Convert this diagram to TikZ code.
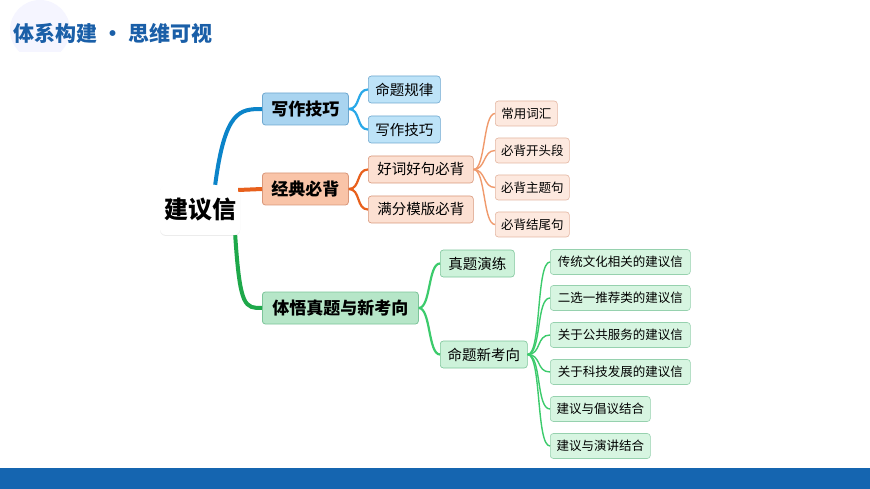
\documentclass[tikz,border=0pt]{standalone}
\usepackage{fontspec}
\setmainfont{Noto Sans CJK SC}
\usetikzlibrary{shadows,calc}
\definecolor{tblue}{HTML}{1A5FA8}
\definecolor{bbar}{HTML}{1565B0}
\definecolor{lb}{HTML}{0B84C9}\definecolor{lbf}{HTML}{A9D4F0}\definecolor{lbd}{HTML}{6FA8D0}
\definecolor{sbf}{HTML}{BDE3F8}\definecolor{sbl}{HTML}{29A8E8}
\definecolor{lo}{HTML}{E8601C}\definecolor{lof}{HTML}{F9C4A8}\definecolor{lod}{HTML}{D9977A}
\definecolor{sof}{HTML}{FCE0D2}\definecolor{sol}{HTML}{F09A6C}
\definecolor{lg}{HTML}{1EA84A}\definecolor{lgf}{HTML}{B6E6C8}\definecolor{lgd}{HTML}{7CC59A}
\definecolor{sgf}{HTML}{CDF2DA}\definecolor{sgl}{HTML}{3CCB6C}
\begin{document}
\begin{tikzpicture}[x=1pt,y=-1pt,
 box/.style={rounded corners=3pt,anchor=west,inner xsep=3pt,minimum height=#1,align=left},
 one/.style={box=32pt,font=\fontsize{17}{19}\selectfont\bfseries,draw=#1,line width=0.8pt},
 two/.style={box=27pt,draw=#1,line width=0.6pt,font=\fontsize{14.5}{16}\selectfont},
 three/.style={box=25pt,draw=#1,line width=0.6pt,font=\fontsize{12.5}{14}\selectfont},
 con/.style={line width=#1}]
\useasboundingbox (0,0) rectangle (870,489);
\fill[white] (0,0) rectangle (870,489);
\fill[blue!4] (40,30) circle (30);
\fill[white] (0,52) rectangle (120,70);
\node[anchor=west,text=tblue,font=\fontsize{21}{24}\selectfont\bfseries] (title) at (10,33) {体系构建 · 思维可视};
\fill[bbar] (0,468) rectangle (870,489);
% root
\node[rounded corners=6pt,fill=white,drop shadow={opacity=0.15,shadow xshift=0pt,shadow yshift=-1pt},minimum width=80pt,minimum height=50pt,font=\fontsize{24}{26}\selectfont\bfseries] (root) at (200,210) {建议信};
% level 1
\node[one=lbd,fill=lbf,minimum width=86pt] (a) at (262,109) {写作技巧};
\node[one=lod,fill=lof,minimum width=86pt] (b) at (262,189) {经典必背};
\node[one=lgd,fill=lgf,minimum width=156pt] (c) at (262,308) {体悟真题与新考向};
% level 2
\node[two=lbd,fill=sbf,minimum width=72pt] (a1) at (368,89.5) {命题规律};
\node[two=lbd,fill=sbf,minimum width=72pt] (a2) at (368,129.5) {写作技巧};
\node[two=lod,fill=sof,minimum width=105pt] (b1) at (368,169.5) {好词好句必背};
\node[two=lod,fill=sof,minimum width=105pt] (b2) at (368,209.5) {满分模版必背};
\node[two=lgd,fill=sgf,minimum width=74pt] (c1) at (440,263.5) {真题演练};
\node[two=lgd,fill=sgf,minimum width=87pt] (c2) at (440,354.5) {命题新考向};
% level 3 orange
\node[three=lod!70,fill=sof!70,minimum width=62pt] (o1) at (495,113.5) {常用词汇};
\node[three=lod!70,fill=sof!70,minimum width=74pt] (o2) at (495,150.5) {必背开头段};
\node[three=lod!70,fill=sof!70,minimum width=74pt] (o3) at (495,187.5) {必背主题句};
\node[three=lod!70,fill=sof!70,minimum width=74pt] (o4) at (495,224.5) {必背结尾句};
% level 3 green
\foreach \n/\t/\y/\w in {g1/传统文化相关的建议信/262/140,g2/二选一推荐类的建议信/298/140,g3/关于公共服务的建议信/335/140,g4/关于科技发展的建议信/372/140,g5/建议与倡议结合/409/100,g6/建议与演讲结合/446/100}
  \node[three=lgd!80,fill=sgf!80,minimum width=\w pt] (\n) at (550,\y) {\t};
% connectors
\draw[con=4pt,lb] ($(root.north east)+(-25,0)$) .. controls (225,110) and (240,109) .. (a.west);
\draw[con=4pt,lo] ($(root.east)+(-2,-20)$) .. controls (250,189) .. (b.west);
\draw[con=4pt,lg] ($(root.south east)+(-5,0)$) .. controls (240,308) and (245,308) .. (c.west);
\foreach \p/\k/\c in {a/a1/sbl,a/a2/sbl,b/b1/lo,b/b2/lo,c/c1/sgl,c/c2/sgl}
  \draw[con=2.2pt,\c] (\p.east) .. controls ($(\p.east)+(12,0)$) and ($(\k.west)+(-12,0)$) .. (\k.west);
\foreach \k in {o1,o2,o3,o4}
  \draw[con=1.4pt,sol] (b1.east) .. controls ($(b1.east)+(12,0)$) and ($(\k.west)+(-12,0)$) .. (\k.west);
\foreach \k in {g1,g2,g3,g4,g5,g6}
  \draw[con=1.4pt,sgl] (c2.east) .. controls ($(c2.east)+(14,0)$) and ($(\k.west)+(-14,0)$) .. (\k.west);
\end{tikzpicture}
\end{document}
